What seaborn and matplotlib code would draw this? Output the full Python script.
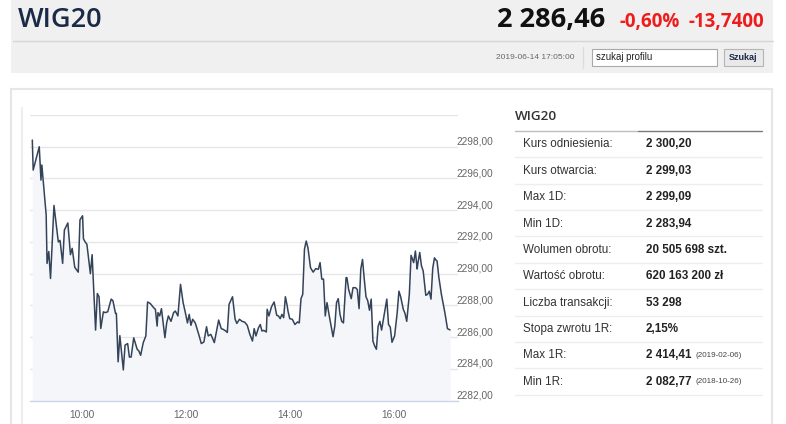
import matplotlib
matplotlib.use("Agg")
import matplotlib.pyplot as plt
import matplotlib.dates as mdates
import matplotlib.ticker as ticker
from matplotlib.patches import Rectangle
from matplotlib.lines import Line2D
import seaborn as sns
import pandas as pd

## dane

# minuty od 09:00 i kurs WIG20
minuty = [3, 4, 11, 13, 14, 19, 20, 22, 24, 28, 33, 35, 38, 40, 44, 47, 49, 52, 56, 58,
          61, 62, 64, 66, 70, 72, 76, 78, 80, 82, 85, 87, 90, 94, 96, 99, 100, 102, 104, 108,
          110, 113, 115, 117, 120,
          124, 126, 128, 131, 134, 136, 139, 143, 145, 147, 148, 150, 152, 154, 156, 158, 160,
          163, 166, 168, 171, 174, 177, 180, 182, 184, 186, 188, 191, 195, 198, 201, 204, 206,
          209, 213, 216, 218, 221, 223, 226, 228, 230, 234, 237, 239, 242, 245,
          248, 251, 254, 257, 259, 261, 264, 266, 268, 270, 273, 274, 276, 279, 282, 285, 287,
          289, 291, 293, 295, 297, 298, 300, 303, 306, 309, 311, 313, 315, 317, 319, 321, 324,
          327, 330, 333, 335, 337, 339, 341, 343, 346, 350, 352, 354, 356, 358, 360, 362, 365, 366,
          368, 371, 373, 376, 378, 380, 382, 384, 386, 388, 390, 392, 394, 396, 398, 400, 402,
          404, 406, 409, 412, 414, 416, 418, 421, 424, 426, 428, 431, 433, 435, 438, 440, 443,
          445, 447, 448, 450, 452, 454, 457, 459, 461, 463, 465, 467, 468, 470, 472, 475, 479,
          482, 485]
kurs = [2298.42, 2296.53, 2298.0, 2295.9, 2296.85, 2293.7, 2290.65, 2291.4, 2289.7, 2294.3,
        2292.0, 2292.1, 2290.65, 2292.75, 2293.2, 2291.2, 2291.6, 2290.4, 2290.1, 2293.4,
        2293.65, 2292.2, 2292.0, 2291.85, 2290.0, 2291.2, 2286.45, 2288.75, 2288.55, 2286.55,
        2287.6, 2287.55, 2287.6, 2288.4, 2288.3, 2287.5, 2287.5, 2284.45, 2286.1, 2283.94,
        2285.5, 2285.6, 2284.75, 2284.75, 2285.96,
        2285.24, 2285.13, 2284.86, 2285.66, 2286.08, 2288.22, 2288.13, 2287.86, 2287.76, 2286.7,
        2287.55, 2287.34, 2287.8, 2286.9, 2285.97, 2286.9, 2287.34,
        2287.0, 2287.55, 2287.65, 2287.34, 2289.33, 2288.18, 2287.44, 2286.9, 2287.44, 2286.75,
        2287.13, 2286.9, 2286.18, 2285.6, 2285.7, 2286.66, 2286.08,
        2286.18, 2285.66, 2286.5, 2287.08, 2286.54, 2286.5, 2286.4, 2286.3, 2288.07, 2288.55,
        2287.13, 2286.87, 2287.13, 2287.0,
        2286.95, 2286.75, 2286.18, 2285.76, 2286.54, 2286.08, 2286.6, 2286.8, 2286.39, 2286.43,
        2286.33, 2287.76, 2287.34, 2287.92, 2288.22, 2287.38, 2287.34,
        2287.17, 2287.44, 2287.23, 2288.55, 2288.0, 2287.65, 2287.17, 2287.13, 2286.8, 2286.96,
        2286.9, 2288.43, 2288.7, 2291.54, 2292.06, 2291.64, 2290.38,
        2290.1, 2290.32, 2290.28, 2290.7, 2289.66, 2289.66, 2287.34, 2288.18, 2287.23, 2286.03,
        2286.7, 2288.18, 2288.43, 2287.44, 2287.0, 2286.9, 2289.75, 2289.75,
        2289.0, 2288.43, 2289.12, 2289.12, 2289.0, 2287.8, 2290.3, 2290.9, 2289.66, 2288.55,
        2288.3, 2287.7, 2288.4, 2285.76, 2285.45, 2285.24, 2286.7,
        2287.0, 2286.45, 2287.44, 2288.4, 2286.8, 2286.64, 2285.68, 2286.08, 2287.55, 2288.9,
        2288.55, 2287.76, 2287.5, 2287.0, 2288.7, 2291.16, 2290.7,
        2291.43, 2290.3, 2290.7, 2291.34, 2290.5, 2290.17, 2288.64, 2288.7, 2288.9, 2288.4,
        2290.34, 2291.0, 2290.9, 2290.8, 2289.8, 2288.7, 2287.55,
        2286.54, 2286.46]

nazwa = "WIG20"
kurs_teraz = "2 286,46"
zmiana_proc = "-0,60%"
zmiana_pkt = "-13,7400"
data_czas = "2019-06-14 17:05:00"
szukaj_placeholder = "szukaj profilu"
szukaj_przycisk = "Szukaj"

etykiety = ["Kurs odniesienia:", "Kurs otwarcia:", "Max 1D:", "Min 1D:", "Wolumen obrotu:",
            "Wartość obrotu:", "Liczba transakcji:", "Stopa zwrotu 1R:", "Max 1R:", "Min 1R:"]
wartosci = ["2 300,20", "2 299,03", "2 299,09", "2 283,94", "20 505 698 szt.",
            "620 163 200 zł", "53 298", "2,15%", "2 414,41", "2 082,77"]
uwagi = ["", "", "", "", "", "", "", "", "(2019-02-06)", "(2018-10-26)"]

## rysunek

sns.set_style("white")
plt.rcParams['font.family'] = ['Liberation Sans', 'DejaVu Sans']

W, H = 786, 424
fig = plt.figure(figsize=(W / 100, H / 100), dpi=100)
fig.patch.set_facecolor("white")

def fx(x): return x / W
def fy(y): return 1 - y / H

def prost(x0, y0, x1, y1, **kw):
    fig.patches.append(Rectangle((fx(x0), fy(y1)), fx(x1) - fx(x0), fy(y0) - fy(y1),
                                 transform=fig.transFigure, **kw))

def linia(x0, y0, x1, y1, **kw):
    fig.lines.append(Line2D([fx(x0), fx(x1)], [fy(y0), fy(y1)], transform=fig.transFigure, **kw))

# naglowek
prost(11, -2, 773, 73, facecolor="#f0f0f0", edgecolor="none")
linia(13, 40.7, 773, 40.7, color="#d6d6d6", lw=1)
fig.text(fx(18), fy(27), nazwa, family=['Open Sans', 'DejaVu Sans'], fontsize=19.5,
         fontweight="semibold", color="#1b2a47", va="baseline", ha="left")
fig.text(fx(605), fy(27), kurs_teraz, family=['Open Sans', 'DejaVu Sans'], fontsize=19.5,
         fontweight="bold", color="#111111", va="baseline", ha="right")
fig.text(fx(619), fy(27), zmiana_proc, family=['Open Sans', 'DejaVu Sans'], fontsize=13.5,
         fontweight="bold", color="#ee1c1c", va="baseline", ha="left")
fig.text(fx(764), fy(27), zmiana_pkt, family=['Open Sans', 'DejaVu Sans'], fontsize=13.5,
         fontweight="bold", color="#ee1c1c", va="baseline", ha="right")
fig.text(fx(575), fy(57.5), data_czas, fontsize=6, color="#666666", va="center", ha="right")
linia(583, 47, 583, 68, color="#dcdcdc", lw=1)
prost(592, 49, 717, 66, facecolor="white", edgecolor="#a9a9a9", lw=0.8)
fig.text(fx(596), fy(57.5), szukaj_placeholder, fontsize=6.9, color="#222222", va="center")
prost(724, 49, 763, 66, facecolor="#e9e9e9", edgecolor="#b5b5b5", lw=0.8)
fig.text(fx(743.5), fy(57.5), szukaj_przycisk, fontsize=6.5, fontweight="bold",
         color="#1b2a47", va="center", ha="center")

# panel
prost(11, 89.3, 772, 430, facecolor="none", edgecolor="#e6e6e6", lw=1.5)
linia(21.7, 107.7, 21.7, 424, color="#eeeeee", lw=1.5)

# wykres
df = pd.DataFrame({"czas": pd.Timestamp("2019-06-14 09:00") + pd.to_timedelta(minuty, unit="min"),
                   "kurs": kurs})
y_min, y_max = 2282, 2300
ax = fig.add_axes([fx(30), fy(400.7), fx(458.3) - fx(30), fy(115) - fy(400.7)])
ax.set_facecolor("none")
ax.fill_between(df["czas"], df["kurs"], y_min, color="#f4f6f9", lw=0)
sns.lineplot(data=df, x="czas", y="kurs", ax=ax, color="#34435a", linewidth=1.1)
ax.set_ylim(y_min, y_max)
ax.set_xlim(pd.Timestamp("2019-06-14 09:00:20"), pd.Timestamp("2019-06-14 17:14:30"))
ax.set_xlabel("")
ax.set_ylabel("")

ax.yaxis.set_major_locator(ticker.MultipleLocator(2))
ax.yaxis.set_major_formatter(ticker.FuncFormatter(
    lambda v, p: "" if v >= y_max else f"{v:.2f}".replace(".", ",")))
ax.yaxis.tick_right()
ax.tick_params(axis="y", length=0, pad=-1, labelsize=7.3, labelcolor="#666666")
for lab in ax.get_yticklabels():
    lab.set_verticalalignment("bottom")

ax.xaxis.set_major_locator(mdates.HourLocator(byhour=[10, 12, 14, 16]))
ax.xaxis.set_major_formatter(mdates.DateFormatter("%H:%M"))
ax.tick_params(axis="x", length=5, width=1, color="#ccd6eb", pad=2,
               labelsize=7.3, labelcolor="#666666", direction="out")

ax.grid(axis="y", color="#e6e6e6", lw=1)
ax.grid(axis="x", visible=False)
for s in ["top", "left", "right"]:
    ax.spines[s].set_visible(False)
ax.spines["bottom"].set_color("#ccd6eb")
ax.spines["bottom"].set_linewidth(1)

# tabela
fig.text(fx(515), fy(116), nazwa, family=['Open Sans', 'DejaVu Sans'], fontsize=9.7,
         fontweight="semibold", color="#333333", va="center")
linia(515, 130.5, 638, 130.5, color="#bdbdbd", lw=1)
linia(638, 130.5, 762, 130.5, color="#7a7a7a", lw=1)
pierwszy, krok = 144.3, 26.4
for i, (et, wa, uw) in enumerate(zip(etykiety, wartosci, uwagi)):
    yc = pierwszy + i * krok
    fig.text(fx(523), fy(yc), et, fontsize=8.4, color="#333333", va="center")
    t = fig.text(fx(646), fy(yc), wa, fontsize=8.4, fontweight="bold", color="#222222",
                 va="center")
    if uw:
        # data w nawiasie zaraz za wartoscia
        ax.annotate(uw, xy=(1, 0.5), xycoords=t, xytext=(3, 0), textcoords="offset points",
                    fontsize=5.8, color="#444444", va="center", ha="left",
                    annotation_clip=False)
    linia(515, yc + 12.8, 762, yc + 12.8, color="#eeeeee", lw=1)

fig.savefig("out.png", dpi=100)
